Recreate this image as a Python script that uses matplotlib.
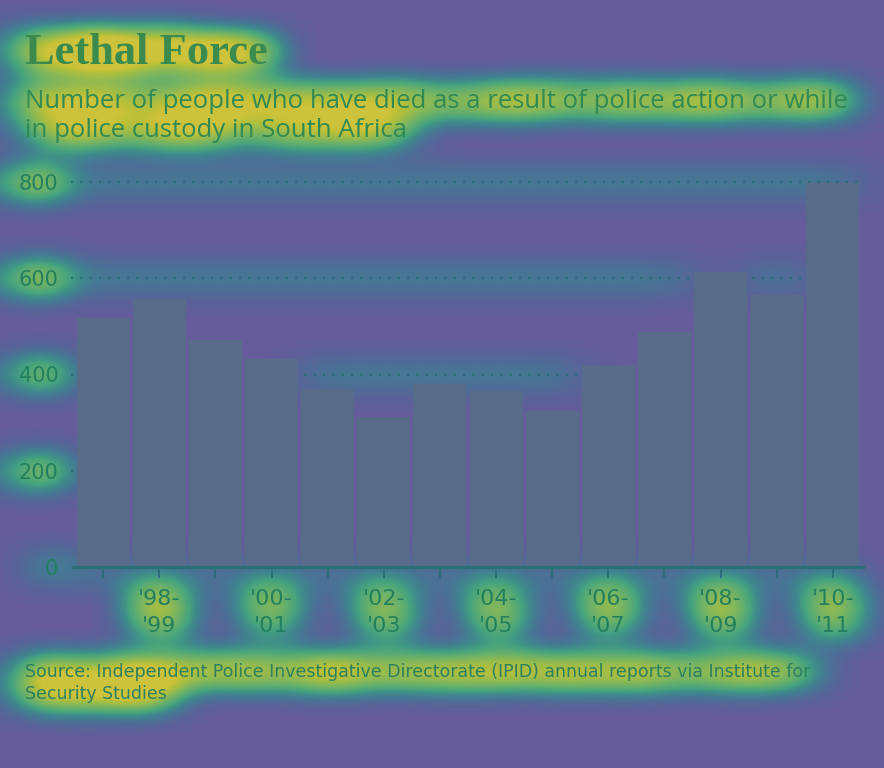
import matplotlib
matplotlib.use("Agg")
import numpy as np
import matplotlib.pyplot as plt

# ---- data ----
seasons = ["'97-\n'98", "'98-\n'99", "'99-\n'00", "'00-\n'01", "'01-\n'02", "'02-\n'03", "'03-\n'04",
           "'04-\n'05", "'05-\n'06", "'06-\n'07", "'07-\n'08", "'08-\n'09", "'09-\n'10", "'10-\n'11"]
deaths = [518, 557, 471, 432, 370, 311, 380, 366, 325, 419, 489, 612, 566, 797]
y_ticks = [0, 200, 400, 600, 800]

title = "Lethal Force"
subtitle = ("Number of people who have died as a result of police action or while\n"
            "in police custody in South Africa")
source = ("Source: Independent Police Investigative Directorate (IPID) annual reports via Institute for\n"
          "Security Studies")

# ---- style ----
BG = "#665c9b"
BAR = "#586c8a"
TXT = "#23805f"
GRID = "#2c6e78"

W, H = 884, 768
fig = plt.figure(figsize=(W / 100, H / 100), dpi=100, facecolor=BG)
ax = fig.add_axes([75 / W, 1 - 567 / H, 786 / W, 385 / H])
ax.set_facecolor("none")
ax.set_zorder(2)

x = list(range(len(deaths)))
ax.bar(x, deaths, width=0.945, color=BAR, zorder=2)

ax.set_xlim(-0.5, len(deaths) - 0.5)
ax.set_ylim(0, 800)

for yv in y_ticks[1:]:
    ax.axhline(yv, xmin=-0.005, xmax=1.0, color=GRID, lw=1.6, ls=(0, (1, 3.2)), zorder=1, clip_on=False)
ax.axhline(0, xmin=-0.003, xmax=1.003, color=GRID, lw=2.4, zorder=3, clip_on=False)

for s in ax.spines.values():
    s.set_visible(False)

ax.set_yticks(y_ticks)
ax.set_yticklabels([str(v) for v in y_ticks], fontsize=15, color=TXT)
ax.tick_params(axis="y", length=0, pad=12)

ax.set_xticks(x)
ax.set_xticklabels([s if i % 2 == 1 else "" for i, s in enumerate(seasons)],
                   fontsize=16, color=TXT, linespacing=1.4)
ax.tick_params(axis="x", length=8, width=1.4, color=GRID, pad=8)

fig.text(25 / W, 1 - 53 / H, title, fontsize=32, fontweight="bold", family="Liberation Serif",
         color="#3b8a4e", va="center", ha="left", zorder=3)
fig.text(25 / W, 1 - 116 / H, subtitle, fontsize=18.5, family="Open Sans",
         color="#2f8a55", va="center", ha="left", linespacing=1.2, zorder=3)
fig.text(25 / W, 1 - 683 / H, source, fontsize=12.5, family="DejaVu Sans",
         color="#2a8060", va="center", ha="left", linespacing=1.35, zorder=3)

# ---- soft attention-style glow behind the picture (derived from the rendered ink) ----
fig.canvas.draw()
buf = np.asarray(fig.canvas.buffer_rgba()).astype(float)
R, G, B = buf[..., 0], buf[..., 1], buf[..., 2]
greenish = (G - R) > 25
text_ink = (greenish & (G >= B)).astype(float)
grid_ink = (greenish & (B > G)).astype(float)
# drop the solid baseline rows so only the dotted grid bands glow
dense_rows = grid_ink.mean(axis=1) > 0.6
grid_ink[dense_rows, :] = 0
ink = text_ink + 3.0 * grid_ink


def box1d(a, r, axis):
    a = np.moveaxis(a, axis, -1)
    p = np.pad(a, [(0, 0), (r + 1, r)], mode="edge")
    c = np.cumsum(p, axis=-1)
    out = (c[:, 2 * r + 1:] - c[:, :-2 * r - 1]) / (2 * r + 1)
    return np.moveaxis(out, -1, axis)


g = ink
for _ in range(3):
    g = box1d(g, 14, 0)
    g = box1d(g, 22, 1)
v = np.clip(g / (0.7 * g.max()), 0, 1) ** 0.7
v[v < 0.03] = 0
cmap = plt.get_cmap("viridis")
rgba = cmap(0.35 + 0.63 * v)
rgba[..., 3] = np.clip(v * 1.4, 0, 0.75)
fig.figimage(rgba, xo=0, yo=0, origin="upper", zorder=1)

fig.savefig("out.png", dpi=100, facecolor=BG)
